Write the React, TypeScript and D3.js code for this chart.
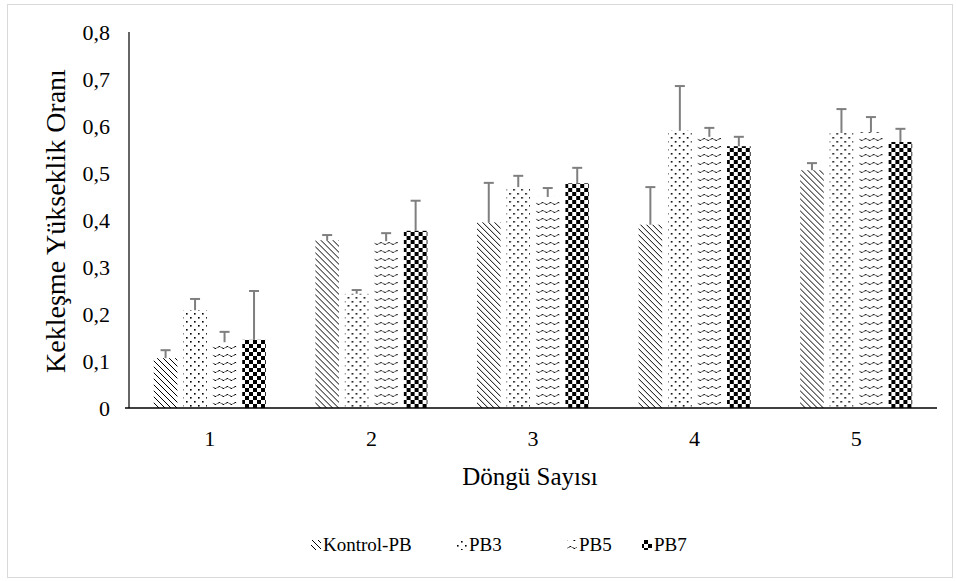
import * as d3 from "d3";

const categories = ["1", "2", "3", "4", "5"];
const seriesNames = ["Kontrol-PB", "PB3", "PB5", "PB7"];

const kontrol = [0.106, 0.357, 0.395, 0.39, 0.506];
const kontrolErr = [0.017, 0.011, 0.084, 0.08, 0.015];
const pb3 = [0.208, 0.243, 0.47, 0.59, 0.585];
const pb3Err = [0.024, 0.008, 0.024, 0.095, 0.051];
const pb5 = [0.14, 0.355, 0.449, 0.577, 0.587];
const pb5Err = [0.022, 0.017, 0.019, 0.019, 0.032];
const pb7 = [0.145, 0.377, 0.478, 0.557, 0.566];
const pb7Err = [0.104, 0.064, 0.033, 0.02, 0.028];

const yTicks = [0, 0.1, 0.2, 0.3, 0.4, 0.5, 0.6, 0.7, 0.8];

const values = [kontrol, pb3, pb5, pb7];
const errors = [kontrolErr, pb3Err, pb5Err, pb7Err];
const patternIds = ["pat-diag", "pat-dots", "pat-wave", "pat-check"];

const font = "'Liberation Serif', 'Times New Roman', serif";

export default function App() {
  const width = 956;
  const height = 581;
  const left = 129;
  const right = 937;
  const top = 32;
  const bottom = 408;

  const x0 = d3.scaleBand<string>().domain(categories).range([left, right]);
  const x1 = d3
    .scaleBand<string>()
    .domain(seriesNames)
    .range([0, x0.bandwidth()])
    .paddingInner(0.2)
    .paddingOuter(0.84);
  const y = d3.scaleLinear().domain([0, 0.8]).range([bottom, top]);
  const fmt = (v: number) => (v === 0 ? "0" : d3.format(".1f")(v).replace(".", ","));

  // legend layout
  const legendItems = [
    { name: seriesNames[0], x: 311 },
    { name: seriesNames[1], x: 457 },
    { name: seriesNames[2], x: 567 },
    { name: seriesNames[3], x: 642 },
  ];

  return (
    <svg
      width={width}
      height={height}
      style={{ position: "absolute", left: 0, top: 0, background: "#fff" }}
      fontFamily={font}
    >
      <defs>
        <pattern id="pat-diag" width={6} height={6} patternUnits="userSpaceOnUse">
          <rect width={6} height={6} fill="#fff" />
          <path d="M0,0 L6,6 M-1,5 L1,7 M5,-1 L7,1" stroke="#000" strokeWidth={1} />
        </pattern>
        <pattern id="pat-dots" width={8} height={8} patternUnits="userSpaceOnUse">
          <rect width={8} height={8} fill="#fff" />
          <rect x={1} y={1} width={1.6} height={1.6} fill="#000" />
          <rect x={5} y={5} width={1.6} height={1.6} fill="#000" />
        </pattern>
        <pattern id="pat-wave" width={8} height={8} patternUnits="userSpaceOnUse">
          <rect width={8} height={8} fill="#fff" />
          <path d="M0.5,4 Q2,1 3.5,3 M4.5,3 Q6,6 7.5,4" fill="none" stroke="#000" strokeWidth={1} />
        </pattern>
        <pattern id="pat-check" width={8} height={8} patternUnits="userSpaceOnUse">
          <rect width={8} height={8} fill="#fff" />
          <rect x={0} y={0} width={4} height={4} fill="#000" />
          <rect x={4} y={4} width={4} height={4} fill="#000" />
        </pattern>
      </defs>

      <rect x={7.5} y={4.5} width={945} height={573} fill="#fff" stroke="#d9d9d9" strokeWidth={1} />

      {/* bars */}
      {categories.map((c, ci) => (
        <g key={c} transform={`translate(${x0(c)},0)`}>
          {seriesNames.map((s, si) => {
            const v = values[si][ci];
            const e = errors[si][ci];
            const bx = x1(s)!;
            const cx = bx + x1.bandwidth() / 2;
            return (
              <g key={s}>
                <rect
                  x={bx}
                  y={y(v)}
                  width={x1.bandwidth()}
                  height={y(0) - y(v)}
                  fill={`url(#${patternIds[si]})`}
                />
                <line x1={cx} x2={cx} y1={y(v)} y2={y(v + e)} stroke="#7f7f7f" strokeWidth={2} />
                <line x1={cx - 5} x2={cx + 5} y1={y(v + e)} y2={y(v + e)} stroke="#7f7f7f" strokeWidth={2} />
              </g>
            );
          })}
        </g>
      ))}

      {/* axes */}
      <line x1={left} x2={left} y1={top} y2={bottom} stroke="#000" strokeWidth={1.2} />
      <line x1={left - 4} x2={right} y1={bottom} y2={bottom} stroke="#000" strokeWidth={1.5} />

      {yTicks.map((t) => (
        <text key={t} x={110} y={y(t)} dy="0.35em" textAnchor="end" fontSize={22} fill="#000">
          {fmt(t)}
        </text>
      ))}
      {categories.map((c) => (
        <text
          key={c}
          x={x0(c)! + x0.bandwidth() / 2}
          y={446}
          textAnchor="middle"
          fontSize={22}
          fill="#000"
        >
          {c}
        </text>
      ))}

      <text
        transform={`translate(65,221) rotate(-90)`}
        textAnchor="middle"
        fontSize={28}
        fill="#000"
      >
        Kekleşme Yükseklik Oranı
      </text>
      <text x={530} y={485} textAnchor="middle" fontSize={25} fill="#000">
        Döngü Sayısı
      </text>

      {legendItems.map((it, i) => (
        <g key={it.name}>
          <rect x={it.x} y={540} width={10} height={10} fill={`url(#${patternIds[i]})`} />
          <text x={it.x + 12} y={551} fontSize={19} fill="#000">
            {it.name}
          </text>
        </g>
      ))}
    </svg>
  );
}
